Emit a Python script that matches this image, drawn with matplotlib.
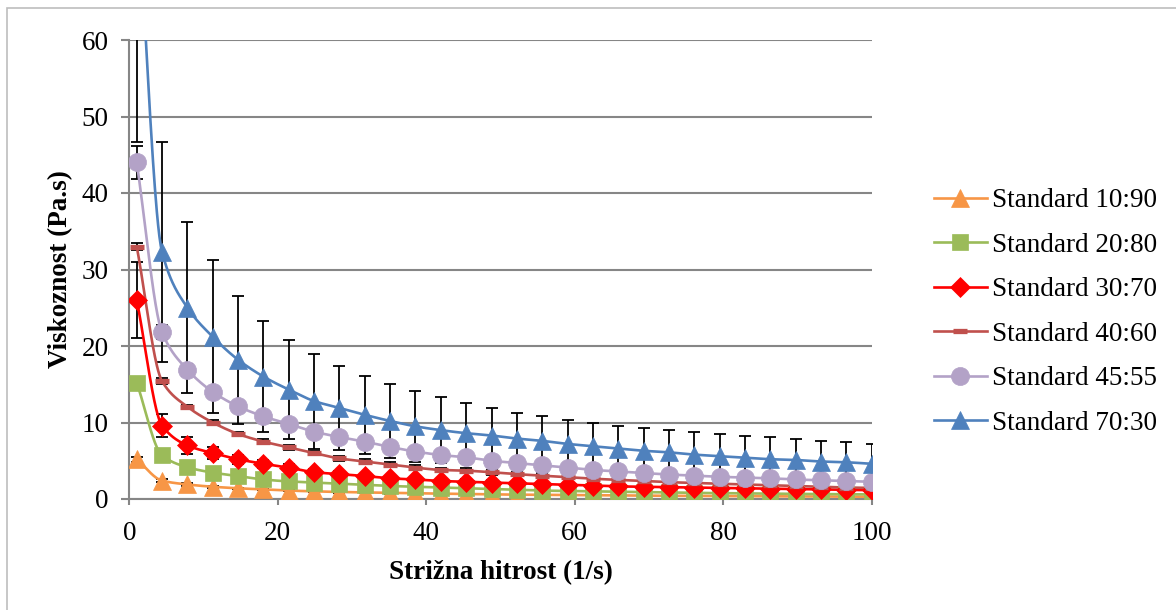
import numpy as np
import matplotlib
matplotlib.use("Agg")
import matplotlib.pyplot as plt
from matplotlib.lines import Line2D
from matplotlib.patches import Rectangle

# shear rate points (1/s)
shear_rate = [1.0, 4.41, 7.83, 11.24, 14.66, 18.07, 21.48, 24.9, 28.31, 31.72,
              35.14, 38.55, 41.97, 45.38, 48.79, 52.21, 55.62, 59.03, 62.45, 65.86,
              69.28, 72.69, 76.1, 79.52, 82.93, 86.34, 89.76, 93.17, 96.59, 100.0]

labels = ["Standard 10:90", "Standard 20:80", "Standard 30:70",
          "Standard 40:60", "Standard 45:55", "Standard 70:30"]

visc_10_90 = [5.2, 2.4, 1.9, 1.6, 1.4, 1.25, 1.1, 1.0, 0.92, 0.86,
              0.8, 0.75, 0.7, 0.65, 0.6, 0.57, 0.54, 0.51, 0.48, 0.46,
              0.44, 0.42, 0.4, 0.38, 0.36, 0.35, 0.34, 0.33, 0.32, 0.3]
visc_20_80 = [15.2, 5.7, 4.15, 3.45, 3.0, 2.55, 2.3, 2.15, 2.0, 1.85,
              1.7, 1.6, 1.5, 1.4, 1.3, 1.2, 1.1, 1.05, 1.0, 0.95,
              0.9, 0.85, 0.8, 0.77, 0.74, 0.7, 0.67, 0.64, 0.62, 0.6]
visc_30_70 = [26.0, 9.6, 7.0, 6.0, 5.2, 4.6, 4.1, 3.5, 3.25, 3.0,
              2.7, 2.55, 2.35, 2.25, 2.15, 2.05, 1.95, 1.85, 1.75, 1.65,
              1.6, 1.55, 1.5, 1.45, 1.4, 1.35, 1.3, 1.25, 1.2, 1.15]
visc_40_60 = [33.0, 15.4, 12.05, 10.0, 8.5, 7.5, 6.75, 6.0, 5.3, 4.9,
              4.5, 4.1, 3.8, 3.7, 3.5, 3.25, 3.05, 2.85, 2.65, 2.5,
              2.35, 2.2, 2.1, 2.0, 1.9, 1.8, 1.7, 1.6, 1.5, 1.45]
visc_45_55 = [44.0, 21.8, 16.9, 14.0, 12.1, 10.8, 9.8, 8.8, 8.1, 7.5,
              6.8, 6.2, 5.75, 5.45, 5.0, 4.7, 4.4, 4.1, 3.8, 3.6,
              3.4, 3.2, 3.05, 2.9, 2.8, 2.7, 2.55, 2.45, 2.35, 2.25]
visc_70_30 = [80.0, 32.3, 25.0, 21.2, 18.2, 16.0, 14.3, 12.8, 11.9, 11.0,
              10.2, 9.5, 9.0, 8.6, 8.3, 7.9, 7.6, 7.2, 6.9, 6.6,
              6.3, 6.1, 5.8, 5.6, 5.4, 5.2, 5.1, 4.9, 4.8, 4.6]

# standard deviations
sd_10_90 = [0.3, 0.2, 0.15, 0.1, 0.1, 0.1, 0.1, 0.1, 0.1, 0.1,
            0.1, 0.1, 0.1, 0.1, 0.1, 0.1, 0.1, 0.1, 0.1, 0.1,
            0.1, 0.1, 0.1, 0.1, 0.1, 0.1, 0.1, 0.1, 0.1, 0.1]
sd_20_80 = [0.5, 0.3, 0.3, 0.2, 0.2, 0.2, 0.2, 0.2, 0.2, 0.2,
            0.2, 0.2, 0.2, 0.2, 0.2, 0.2, 0.2, 0.2, 0.2, 0.2,
            0.2, 0.2, 0.2, 0.2, 0.2, 0.2, 0.2, 0.2, 0.2, 0.2]
sd_30_70 = [5.0, 1.55, 1.1, 0.8, 0.6, 0.5, 0.45, 0.4, 0.35, 0.3,
            0.3, 0.3, 0.3, 0.3, 0.3, 0.3, 0.3, 0.3, 0.3, 0.3,
            0.3, 0.3, 0.3, 0.3, 0.3, 0.3, 0.3, 0.3, 0.3, 0.3]
sd_40_60 = [0.5, 0.4, 0.3, 0.3, 0.3, 0.3, 0.3, 0.3, 0.3, 0.3,
            0.3, 0.3, 0.3, 0.3, 0.3, 0.3, 0.3, 0.3, 0.3, 0.3,
            0.3, 0.3, 0.3, 0.3, 0.3, 0.3, 0.3, 0.3, 0.3, 0.3]
sd_45_55 = [2.2, 0.9, 0.8, 0.7, 0.6, 0.5, 0.5, 0.5, 0.4, 0.4,
            0.4, 0.4, 0.4, 0.4, 0.4, 0.4, 0.4, 0.4, 0.4, 0.4,
            0.4, 0.4, 0.4, 0.4, 0.4, 0.4, 0.4, 0.4, 0.4, 0.4]
sd_70_30 = [33.3, 14.4, 11.2, 10.0, 8.4, 7.3, 6.5, 6.2, 5.5, 5.1,
            4.8, 4.6, 4.3, 3.9, 3.6, 3.4, 3.2, 3.1, 3.1, 3.0,
            3.0, 2.9, 3.0, 2.9, 2.9, 2.9, 2.7, 2.7, 2.6, 2.6]

series = [
    (visc_10_90, sd_10_90, "#F79646", "^", 13.5, 0),
    (visc_20_80, sd_20_80, "#9BBB59", "s", 12, 0),
    (visc_30_70, sd_30_70, "#FF0000", "D", 10, 0),
    (visc_40_60, sd_40_60, "#C0504D", "_", 10.5, 3.8),
    (visc_45_55, sd_45_55, "#B3A2C7", "o", 13, 0),
    (visc_70_30, sd_70_30, "#4F81BD", "^", 13.5, 0),
]


def smooth(x, y, n=40):
    # monotone cubic (Fritsch-Carlson) curve through all points
    x = np.asarray(x, float)
    y = np.asarray(y, float)
    h = np.diff(x)
    d = np.diff(y) / h
    m = np.zeros_like(y)
    m[0], m[-1] = d[0], d[-1]
    for i in range(1, len(x) - 1):
        if d[i - 1] * d[i] <= 0:
            m[i] = 0
        else:
            w1 = 2 * h[i] + h[i - 1]
            w2 = h[i] + 2 * h[i - 1]
            m[i] = (w1 + w2) / (w1 / d[i - 1] + w2 / d[i])
    xs, ys = [], []
    t = np.linspace(0, 1, n)
    for i in range(len(x) - 1):
        h00 = 2 * t ** 3 - 3 * t ** 2 + 1
        h10 = t ** 3 - 2 * t ** 2 + t
        h01 = -2 * t ** 3 + 3 * t ** 2
        h11 = t ** 3 - t ** 2
        xs.append(x[i] + t * h[i])
        ys.append(h00 * y[i] + h10 * h[i] * m[i] + h01 * y[i + 1] + h11 * h[i] * m[i + 1])
    return np.concatenate(xs), np.concatenate(ys)


plt.rcParams.update({
    "font.family": ["Liberation Serif", "DejaVu Serif"],
    "font.size": 19.5,
})

fig = plt.figure(figsize=(11.76, 6.10), dpi=100)
fig.patches.append(Rectangle((7 / 1176, -0.1), 1.2, 1.1 - 8 / 610,
                             transform=fig.transFigure, fill=False,
                             edgecolor="#BDBDBD", linewidth=1.2))
ax = fig.add_axes([129.3 / 1176, 1 - 499 / 610, (871.7 - 129.3) / 1176, (499 - 40) / 610])

handles = []
for k, (vals, sd, color, mk, ms, mew) in enumerate(series):
    ax.errorbar(shear_rate, vals, yerr=sd, fmt="none", ecolor="black",
                elinewidth=1.3, capsize=4.5, capthick=1.3, zorder=2)
    sx, sy = smooth(shear_rate, vals)
    ax.plot(sx, sy, color=color, linewidth=1.9, zorder=3 + k * 0.1, solid_capstyle="butt")
    ax.plot(shear_rate, vals, linestyle="none", marker=mk, markersize=ms,
            markerfacecolor=color, markeredgecolor=color,
            markeredgewidth=mew if mew else 0.5, color=color, zorder=5 + k * 0.1)
    handles.append(Line2D([], [], color=color, linewidth=1.9, marker=mk, markersize=ms,
                          markerfacecolor=color, markeredgecolor=color,
                          markeredgewidth=mew if mew else 0.5))

ax.set_xlim(0, 100)
ax.set_ylim(0, 60)
ax.set_xticks([0, 20, 40, 60, 80, 100])
ax.set_yticks([0, 10, 20, 30, 40, 50, 60])
ax.grid(axis="y", color="#868686", linewidth=1.5)
ax.set_axisbelow(True)
for side in ["top", "right"]:
    ax.spines[side].set_visible(False)
for side in ["left", "bottom"]:
    ax.spines[side].set_color("#868686")
    ax.spines[side].set_linewidth(1.5)
ax.tick_params(axis="y", direction="out", length=6, width=1.5, color="#868686", pad=9, labelsize=19.5)
ax.tick_params(axis="x", direction="out", length=4, width=1.5, color="#868686", pad=12, labelsize=19.5)

ax.set_xlabel("Strižna hitrost (1/s)", fontweight="bold", fontsize=19.5, labelpad=10)
ax.set_ylabel("Viskoznost (Pa.s)", fontweight="bold", fontsize=19.5, labelpad=6)

fig.legend(handles, labels, loc="center left", bbox_to_anchor=(923 / 1176, 1 - 312 / 610),
           frameon=False, fontsize=19.5, handlelength=1.95, handletextpad=0.2,
           labelspacing=0.72, borderaxespad=0)

fig.savefig("out.png", dpi=100)
